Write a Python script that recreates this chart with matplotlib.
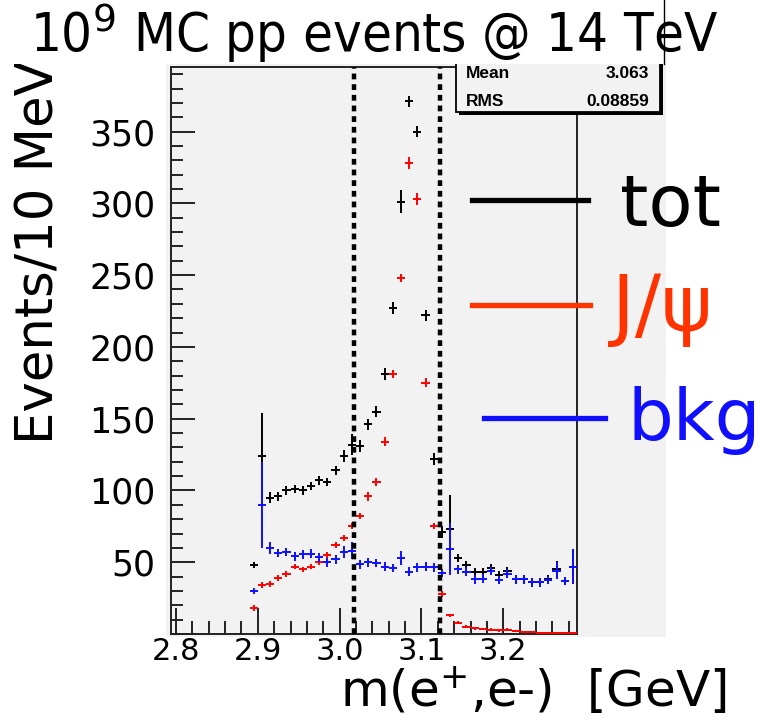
import numpy as np
import matplotlib.pyplot as plt
from matplotlib.patches import Rectangle
from matplotlib.lines import Line2D
from matplotlib.ticker import MultipleLocator

# bins of 10 MeV
bin_edges = np.linspace(2.89, 3.29, 41)
mass = 0.5 * (bin_edges[:-1] + bin_edges[1:])

tot = [48, 124, 95, 96, 100, 101, 100, 103, 107, 106, 114, 124, 132, 131, 146, 155,
       181, 227, 301, 371, 350, 222, 122, 71, 73, 53, 48, 43, 43, 46, 41, 44, 38, 38,
       36, 36, 38, 45, 37, 47]
tot_err = [2, 30, 4, 3, 3, 3, 3, 3, 3, 3, 3, 4, 7, 4, 4, 4, 4, 4, 8, 4, 4, 4, 4, 4,
           24, 3, 3, 3, 3, 3, 3, 3, 3, 3, 3, 3, 3, 6, 3, 12]

jpsi = [18, 34, 35, 39, 42, 47, 45, 47, 50, 55, 62, 67, 75, 82, 96, 106, 134, 181,
        248, 328, 303, 175, 75, 28, 13, 8, 5, 4, 3.5, 3, 2.5, 3, 2, 1.5, 1.5, 1, 1, 1,
        1, 0.5]
jpsi_err = [2, 2, 2, 2, 2, 2, 2, 2, 2, 2, 2, 2, 2, 2, 3, 3, 3, 3, 3, 4, 4, 3, 2, 2,
            1, 1, 1, 1, 1, 1, 1, 1, 0.5, 0.5, 0.5, 0.5, 0.5, 0.5, 0.5, 0.5]

bkg = [30, 90, 60, 56.5, 57, 54, 55.5, 56, 53.5, 50, 52, 57, 58, 48.5, 50, 49.5, 47,
       46, 53, 43.5, 46.5, 47, 46.5, 42.5, 59, 45, 43.5, 38, 38.5, 44, 37.5, 42, 38,
       38, 36, 36, 37.5, 44, 37, 47]
bkg_err = [2, 30, 4, 3, 3, 3, 3, 3, 3, 3, 3, 4, 6, 3, 3, 3, 3, 3, 5, 3, 3, 3, 3, 3,
           18, 3, 3, 3, 3, 3, 3, 3, 3, 3, 3, 3, 3, 6, 3, 12]

cut_lo, cut_hi = 3.017, 3.123
stat_mean, stat_rms = '3.063', '0.08859'

W, H = 760, 724
def fx(px):
    return px / W
def fy(py):
    return 1 - py / H

fig = plt.figure(figsize=(7.6, 7.24), dpi=100)
pad_col = '#f2f2f2'

# ROOT pad background
fig.patches.append(Rectangle((fx(166), fy(637)), fx(666) - fx(166), fy(62) - fy(637),
                             transform=fig.transFigure, facecolor=pad_col,
                             edgecolor='none', zorder=0))

ax = fig.add_axes([fx(171), fy(634), fx(577) - fx(171), fy(67) - fy(634)])
ax.set_zorder(1)
ax.set_facecolor(pad_col)

ax.errorbar(mass, tot, yerr=tot_err, xerr=0.005, fmt='none', ecolor='black',
            elinewidth=1.4, capsize=0, zorder=3)
ax.errorbar(mass, jpsi, yerr=jpsi_err, xerr=0.005, fmt='none', ecolor='#ff0000',
            elinewidth=1.4, capsize=0, zorder=4)
ax.errorbar(mass, bkg, yerr=bkg_err, xerr=0.005, fmt='none', ecolor='#1010ff',
            elinewidth=1.4, capsize=0, zorder=5)

for xc in (cut_lo, cut_hi):
    ax.axvline(xc, color='black', lw=3.2, ls=(0, (1.3, 1.1)), zorder=6)

ax.set_xlim(2.794, 3.290)
ax.set_ylim(0, 395)
ax.set_xticks([2.8, 2.9, 3.0, 3.1, 3.2])
ax.set_xticklabels(['2.8', '2.9', '3.0', '3.1', '3.2'])
ax.xaxis.set_minor_locator(MultipleLocator(0.02))
ax.set_yticks(range(0, 400, 50))
ax.set_yticklabels([''] + [str(v) for v in range(50, 400, 50)])
ax.yaxis.set_minor_locator(MultipleLocator(10))
ax.tick_params(axis='both', which='both', direction='in', color='#222222', width=1.4)
ax.tick_params(axis='x', which='major', length=19, labelsize=22, pad=2)
ax.tick_params(axis='x', which='minor', length=9.5)
ax.tick_params(axis='y', which='major', length=17, labelsize=25, pad=11)
ax.tick_params(axis='y', which='minor', length=8.5)
for s in ax.spines.values():
    s.set_linewidth(1.4)
    s.set_color('#222222')

# stats box
sx0, sx1, sy0, sy1 = 456, 660, 40, 112
fig.patches.append(Rectangle((fx(sx0 + 3), fy(sy1 + 3)), fx(sx1) - fx(sx0), fy(sy0) - fy(sy1),
                             transform=fig.transFigure, facecolor='black',
                             edgecolor='none', zorder=7))
fig.patches.append(Rectangle((fx(sx0), fy(sy1)), fx(sx1) - fx(sx0), fy(sy0) - fy(sy1),
                             transform=fig.transFigure, facecolor=pad_col,
                             edgecolor='black', lw=1.3, zorder=8))
sfont = dict(family='Liberation Sans', weight='bold', fontsize=12.5, zorder=9)
fig.text(fx(466), fy(73), 'Mean', va='center', ha='left', **sfont)
fig.text(fx(649), fy(73), stat_mean, va='center', ha='right', **sfont)
fig.text(fx(466), fy(101), 'RMS', va='center', ha='left', **sfont)
fig.text(fx(649), fy(101), stat_rms, va='center', ha='right', **sfont)

# title on white band
fig.patches.append(Rectangle((0, fy(64)), fx(664), 1 - fy(64), transform=fig.transFigure,
                             facecolor='white', edgecolor='none', zorder=10))
fig.lines.append(Line2D([fx(664), fx(664)], [fy(0), fy(64)], transform=fig.transFigure,
                        color='black', lw=1, zorder=11))
fig.text(fx(30), fy(52), r'10$^{9}$ MC pp events @ 14 TeV', fontsize=39,
         fontstretch='condensed', va='baseline', ha='left', zorder=12)

# axis titles
fig.text(fx(40), fy(252), 'Events/10 MeV', rotation=90, fontsize=37,
         ha='center', va='center')
fig.text(fx(340), fy(708), 'm(e$^{+}$,e-)  [GeV]', fontsize=36, ha='left', va='baseline')

# legend
leg = [('tot', 'black', 472, 588, 200, 620, 226, 52),
       ('J/ψ', '#ff3300', 472, 590, 305, 612, 331, 56),
       ('bkg', '#1010ff', 484, 605, 418, 628, 440, 52)]
for label, col, x0, x1, yl, xt, yt, fs in leg:
    fig.lines.append(Line2D([fx(x0), fx(x1)], [fy(yl), fy(yl)], transform=fig.transFigure,
                            color=col, lw=3.8, zorder=12))
    fig.text(fx(xt), fy(yt), label, color=col, fontsize=fs, ha='left', va='baseline',
             zorder=12)

fig.savefig('out.png', dpi=100)
